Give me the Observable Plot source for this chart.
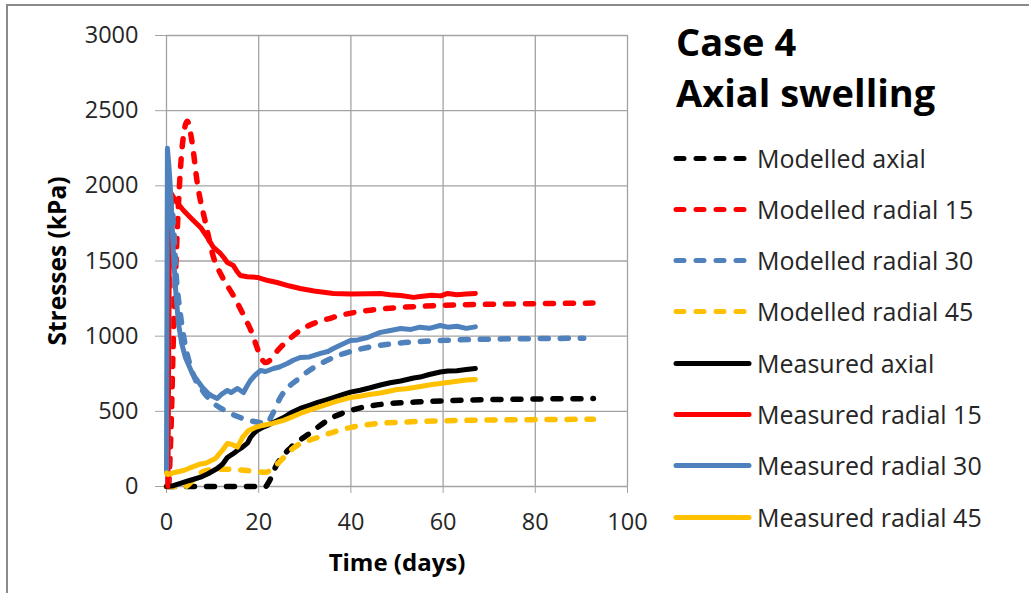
<!DOCTYPE html>
<html>
<head>
<meta charset="utf-8">
<script src="https://cdn.jsdelivr.net/npm/d3@7"></script>
<script src="https://cdn.jsdelivr.net/npm/@observablehq/plot@0.6"></script>
<style>
  html, body { margin: 0; padding: 0; background: #fff; }
  #wrap { position: relative; width: 1029px; height: 593px; overflow: hidden; font-family: "Open Sans", Lato, sans-serif; }
  #frame { position: absolute; left: 6px; top: 4px; width: 1100px; height: 700px; border-left: 2px solid #8a8a8a; border-top: 2px solid #8a8a8a; pointer-events: none; }
  #title { position: absolute; left: 676px; top: 16px; font-weight: bold; font-size: 38px; line-height: 51px; color: #000; }
  #legend { position: absolute; left: 673px; top: 0; }
  .item { position: absolute; left: 0; height: 30px; white-space: nowrap; }
  .item svg { position: absolute; left: 0; top: 12px; }
  .item span { position: absolute; left: 84px; top: 0; font-size: 25px; line-height: 30px; color: #262626; }
</style>
</head>
<body>
<div id="wrap">
  <div id="chart"></div>
  <div id="frame"></div>
  <div id="title">Case 4<br>Axial swelling</div>
  <div id="legend"></div>
</div>
<script>
// Time in days, stress in kPa
const modelledAxial = [[0,0],[21.5,0],[22,20],[24,150],[27,260],[31,352],[36,459],[40,506],[47,548],[54,562],[62,572],[70,578],[80,582],[92.6,585]];
const modelledRadial15 = [[0.5,0],[1,400],[1.5,1000],[2.2,1600],[3,2100],[3.8,2360],[4.5,2430],[5.5,2300],[6.7,2015],[8.5,1750],[10.2,1524],[12,1400],[14.5,1270],[18,1060],[21.5,825],[24.7,925],[29,1038],[36,1124],[43.6,1171],[50.8,1191],[60,1205],[70,1212],[80,1216],[92.5,1220]];
const modelledRadial30 = [[0.3,0],[0.6,1200],[1,1900],[1.5,1750],[2,1450],[3,1150],[4,950],[5,820],[6,730],[8,630],[10,560],[13,500],[16,459],[19,432],[21.8,420],[22.8,470],[24.7,592],[29,725],[36.2,858],[43.6,925],[50.8,955],[60,972],[70,980],[80,984],[90.5,986]];
const modelledRadial45 = [[0,0],[4,0],[6,50],[8,100],[10,112],[13,115],[18,105],[21.5,95],[23,120],[25,180],[27.5,255],[32.8,326],[40,393],[46,419],[51,428],[60,437],[70,442],[80,445],[92.6,447]];

const measuredAxial = [[0,0],[1.5,5],[3,20],[5,40],[7.4,62],[9,85],[11,120],[12.2,150],[13.2,193],[14.3,215],[15.4,240],[16.5,262],[17.6,290],[18.2,326],[19,355],[19.7,373],[21,395],[21.9,406],[23.5,430],[25.4,459],[27,490],[29,519],[31,540],[32.8,559],[34.5,575],[36.2,592],[38,610],[39.9,628],[42,640],[44,655],[46.4,675],[48.5,690],[50.8,702],[53.6,722],[55,728],[57,745],[59.4,762],[61,768],[63,770],[65,778],[67,785]];
const measuredRadial15 = [[0.3,0],[0.6,1500],[1,1950],[2,1900],[3.7,1836],[5.5,1780],[7.4,1723],[9,1650],[10.2,1590],[11.7,1550],[12.5,1520],[13.2,1490],[14.5,1470],[15.3,1430],[16,1404],[17.5,1395],[19.7,1391],[22,1370],[24,1357],[26.5,1335],[29,1317],[32,1300],[36.2,1284],[40,1280],[43.6,1282],[46.4,1284],[48.5,1276],[50.8,1271],[53.6,1258],[55.5,1266],[57.5,1272],[59.5,1268],[61,1284],[63,1276],[65,1280],[67,1284]];
const measuredRadial30 = [[0,100],[0.2,2250],[0.6,2100],[1,1900],[1.5,1550],[2,1300],[2.6,1084],[3.3,950],[4.1,858],[5.6,752],[7.8,659],[9,620],[10,600],[11,585],[12,615],[13.2,639],[14,625],[15.4,652],[16.7,625],[17.5,670],[18.2,705],[19.2,740],[20.4,772],[21.5,765],[23.2,785],[24.5,795],[26.2,818],[27.5,840],[29,858],[31,862],[33.4,885],[35,898],[36.2,918],[38,945],[39.9,971],[41.5,975],[43.6,991],[46.4,1025],[48.6,1038],[50.8,1051],[53,1045],[55,1060],[57,1052],[59.4,1071],[61,1060],[63,1066],[65,1052],[67,1062]];
const measuredRadial45 = [[0,90],[0.3,80],[2,95],[3.7,106],[4.8,120],[7.4,150],[8.5,155],[10.6,186],[11.4,215],[12.1,240],[13.2,286],[14.2,280],[15.4,262],[16.5,326],[17.8,373],[19.3,393],[20.8,406],[23,420],[25.4,440],[27,460],[29,486],[31,508],[32.8,526],[35,548],[37,568],[39.9,592],[42,600],[44,612],[46.4,622],[48,632],[50,645],[52,650],[54.4,662],[56,670],[58,680],[59.4,685],[61,692],[63,700],[65,708],[67,712]];

const seriesNames = ["Modelled axial","Modelled radial 15","Modelled radial 30","Modelled radial 45","Measured axial","Measured radial 15","Measured radial 30","Measured radial 45"];
const seriesValues = [modelledAxial, modelledRadial15, modelledRadial30, modelledRadial45, measuredAxial, measuredRadial15, measuredRadial30, measuredRadial45];
const seriesColors = ["#000000","#ff0000","#4f81bd","#ffc000","#000000","#ff0000","#4f81bd","#ffc000"];
const xTicks = [0,20,40,60,80,100];
const yTicks = [0,500,1000,1500,2000,2500,3000];

const rows = seriesNames.flatMap((name, i) =>
  seriesValues[i].map(([t, s]) => ({series: name, time: t, stress: s, color: seriesColors[i]}))
);

const DASH = "8,12";

const lineFor = (name) => {
  const modelled = name.startsWith("Modelled");
  return Plot.line(rows.filter(d => d.series === name), {
    x: "time", y: "stress", stroke: "color",
    strokeWidth: modelled ? 5.5 : 5,
    strokeDasharray: modelled ? DASH : null,
    strokeLinecap: "round", strokeLinejoin: "round",
    curve: modelled ? "monotone-x" : "linear"
  });
};

const chart = Plot.plot({
  width: 1029,
  height: 593,
  marginLeft: 166,
  marginRight: 402,
  marginTop: 35,
  marginBottom: 107,
  style: {fontFamily: "'Open Sans', Lato, sans-serif", fontSize: "23.5px", color: "#262626", background: "transparent"},
  x: {domain: [0, 100], ticks: xTicks},
  y: {domain: [0, 3000], ticks: yTicks},
  color: {type: "identity"},
  marks: [
    Plot.gridX(xTicks, {stroke: "#a3a3a3", strokeOpacity: 1, strokeWidth: 1.3}),
    Plot.gridY(yTicks, {stroke: "#a3a3a3", strokeOpacity: 1, strokeWidth: 1.3}),
    Plot.axisX(xTicks, {tickSize: 7, tickPadding: 20, stroke: "#a3a3a3", fill: "#262626", label: null}),
    Plot.axisY(yTicks, {tickSize: 11, tickPadding: 17, stroke: "#a3a3a3", fill: "#262626", label: null, tickFormat: d => String(d)}),
    ...seriesNames.map(lineFor),
    Plot.text(["Time (days)"], {frameAnchor: "bottom", dy: 84, fontWeight: "bold", fontSize: 24, fill: "#000"}),
    Plot.text(["Stresses (kPa)"], {frameAnchor: "left", textAnchor: "middle", dx: -108, rotate: -90, fontWeight: "bold", fontSize: 24.5, fill: "#000"})
  ]
});
document.getElementById("chart").appendChild(chart);

// Legend beside the plot
const legend = document.getElementById("legend");
const legendY = [158, 209, 260, 311, 363, 414, 465, 517];
seriesNames.forEach((name, i) => {
  const modelled = name.startsWith("Modelled");
  const item = document.createElement("div");
  item.className = "item";
  item.style.top = (legendY[i] - 15) + "px";
  item.innerHTML = `<svg width="80" height="8"><line x1="3" x2="76" y1="3.5" y2="3.5" stroke="${seriesColors[i]}" stroke-width="5" stroke-linecap="round" ${modelled ? `stroke-dasharray="${DASH}"` : ''}/></svg><span>${name}</span>`;
  legend.appendChild(item);
});
</script>
</body>
</html>
